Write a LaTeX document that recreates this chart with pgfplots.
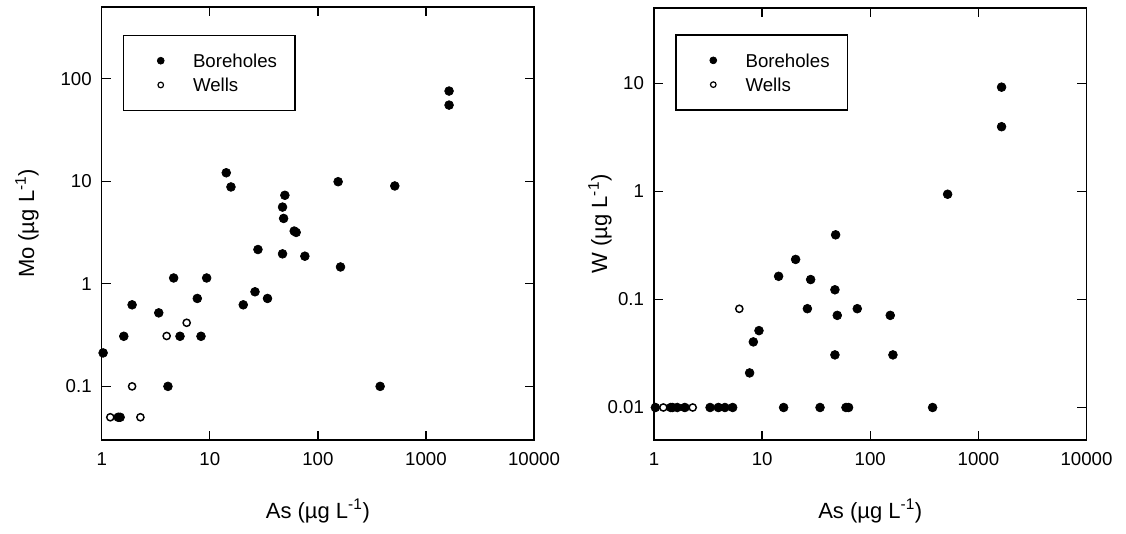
\documentclass[border=0pt]{standalone}
\usepackage{fontspec}
\setmainfont{Liberation Sans}
\usepackage{pgfplots}
\pgfplotsset{compat=1.18}
\pgfplotsset{
  mystyle/.style={
    scale only axis,
    xmin=1, xmax=10000,
    xtick={1,10,100,1000,10000},
    xticklabels={1,10,100,1000,10000},
    axis line style={line width=1pt},
    every tick/.style={black, line width=1pt},
    major tick length=7pt,
    minor tick length=0pt,
    minor tick style={draw=none},
    tick align=inside,
    /pgf/number format/assume math mode=true,
    tick label style={font=\fontsize{14}{16}\selectfont},
    xticklabel shift=6pt, yticklabel shift=4pt,
    xlabel={As (µg L\textsuperscript{-1})},
    every axis x label/.style={at={(axis description cs:0.5,-0.164)},anchor=center,font=\fontsize{16.5}{19}\selectfont},
    legend style={anchor=north west, draw=black, line width=1pt,
      inner xsep=0pt, inner ysep=9.9pt, row sep=0pt,
      nodes={draw=none, inner sep=0pt, text depth=0pt, font=\fontsize{14}{16}\selectfont},
      cells={anchor=west}},
    reverse legend,
  },
  bore/.style={only marks, mark=*, mark size=3.3pt,
    mark options={fill=black, draw=black, line width=0.5pt},
    legend image code/.code={\path[draw=none,fill=none] (0pt,-9.1pt) rectangle (52.2pt,9.1pt);
      \draw[##1, mark size=2.6pt] plot coordinates {(28pt,0pt)};}},
  well/.style={only marks, mark=*, mark size=2.7pt,
    mark options={fill=white, draw=black, line width=1.1pt},
    legend image code/.code={\path[draw=none,fill=none] (0pt,-9.1pt) rectangle (52.2pt,9.1pt);
      \draw[##1, mark size=2.1pt, mark options={fill=white, draw=black, line width=0.9pt}] plot coordinates {(28pt,0pt)};}},
}
\begin{document}
\begin{tikzpicture}
\useasboundingbox (0,0) rectangle (844.5pt,399.75pt);
% Left panel: Mo vs As
\begin{loglogaxis}[mystyle,
  at={(76.3pt,69.75pt)}, anchor=south west,
  width=324.2pt, height=324.75pt,
  ymin=0.03, ymax=500,
  ytick={0.1,1,10,100},
  yticklabels={0.1,1,10,100},
  ylabel={Mo (µg L\textsuperscript{-1})},
  every axis y label/.style={at={(axis description cs:-0.1728,0.5)},rotate=90,anchor=center,font=\fontsize{16.5}{19}\selectfont},
  legend style={at={(axis description cs:0.0486,0.936)}},
]
\addplot[well] coordinates {
(6.11,0.417) (3.99,0.31) (1.91,0.1) (1.2,0.05) (2.28,0.05)
};
\addlegendentry{Wells}
\addplot[bore] coordinates {
(1637,75.8) (1637,55.3) (14.2,12.1) (15.7,8.8) (154,9.9) (515,9.0)
(49.5,7.3) (47.1,5.6) (48.2,4.34) (60.4,3.27) (63,3.17) (27.9,2.16)
(47.1,1.96) (75.8,1.86) (162,1.46) (4.63,1.14) (9.35,1.14) (26.2,0.836)
(7.66,0.72) (34.2,0.72) (1.91,0.624) (20.4,0.624) (3.37,0.521)
(1.6,0.308) (5.3,0.308) (8.29,0.308) (1.03,0.212) (4.1,0.1) (377,0.1)
(1.42,0.05) (1.48,0.05)
};
\addlegendentry{Boreholes\hspace*{13.5pt}}
\end{loglogaxis}
% Right panel: W vs As
\begin{loglogaxis}[mystyle,
  at={(490.5pt,69.75pt)}, anchor=south west,
  width=324.4pt, height=324pt,
  ymin=0.005, ymax=50,
  ytick={0.01,0.1,1,10},
  yticklabels={0.01,0.1,1,10},
  ylabel={W (µg L\textsuperscript{-1})},
  every axis y label/.style={at={(axis description cs:-0.125,0.5)},rotate=90,anchor=center,font=\fontsize{16.5}{19}\selectfont},
  legend style={at={(axis description cs:0.0492,0.939)}},
]
\addplot[well] coordinates {
(6.15,0.082) (1.22,0.01) (2.28,0.01) (1.91,0.01) (3.99,0.01)
};
\addlegendentry{Wells}
\addplot[bore] coordinates {
(1637,9.25) (1637,3.98) (519,0.943) (47.8,0.397) (20.4,0.235) (14.2,0.164)
(28.1,0.153) (47.1,0.123) (26.2,0.0822) (75.8,0.0822) (49.5,0.0713)
(153,0.0713) (9.35,0.0515) (8.29,0.0405) (47.1,0.0307) (162,0.0307)
(7.66,0.0209) (15.8,0.01) (34.3,0.01) (59.6,0.01) (63,0.01) (377,0.01)
(1.03,0.01) (1.43,0.01) (1.48,0.01) (1.64,0.01) (1.93,0.01) (3.3,0.01)
(3.93,0.01) (4.53,0.01) (5.34,0.01)
};
\addlegendentry{Boreholes\hspace*{13.5pt}}
\end{loglogaxis}
\end{tikzpicture}
\end{document}
